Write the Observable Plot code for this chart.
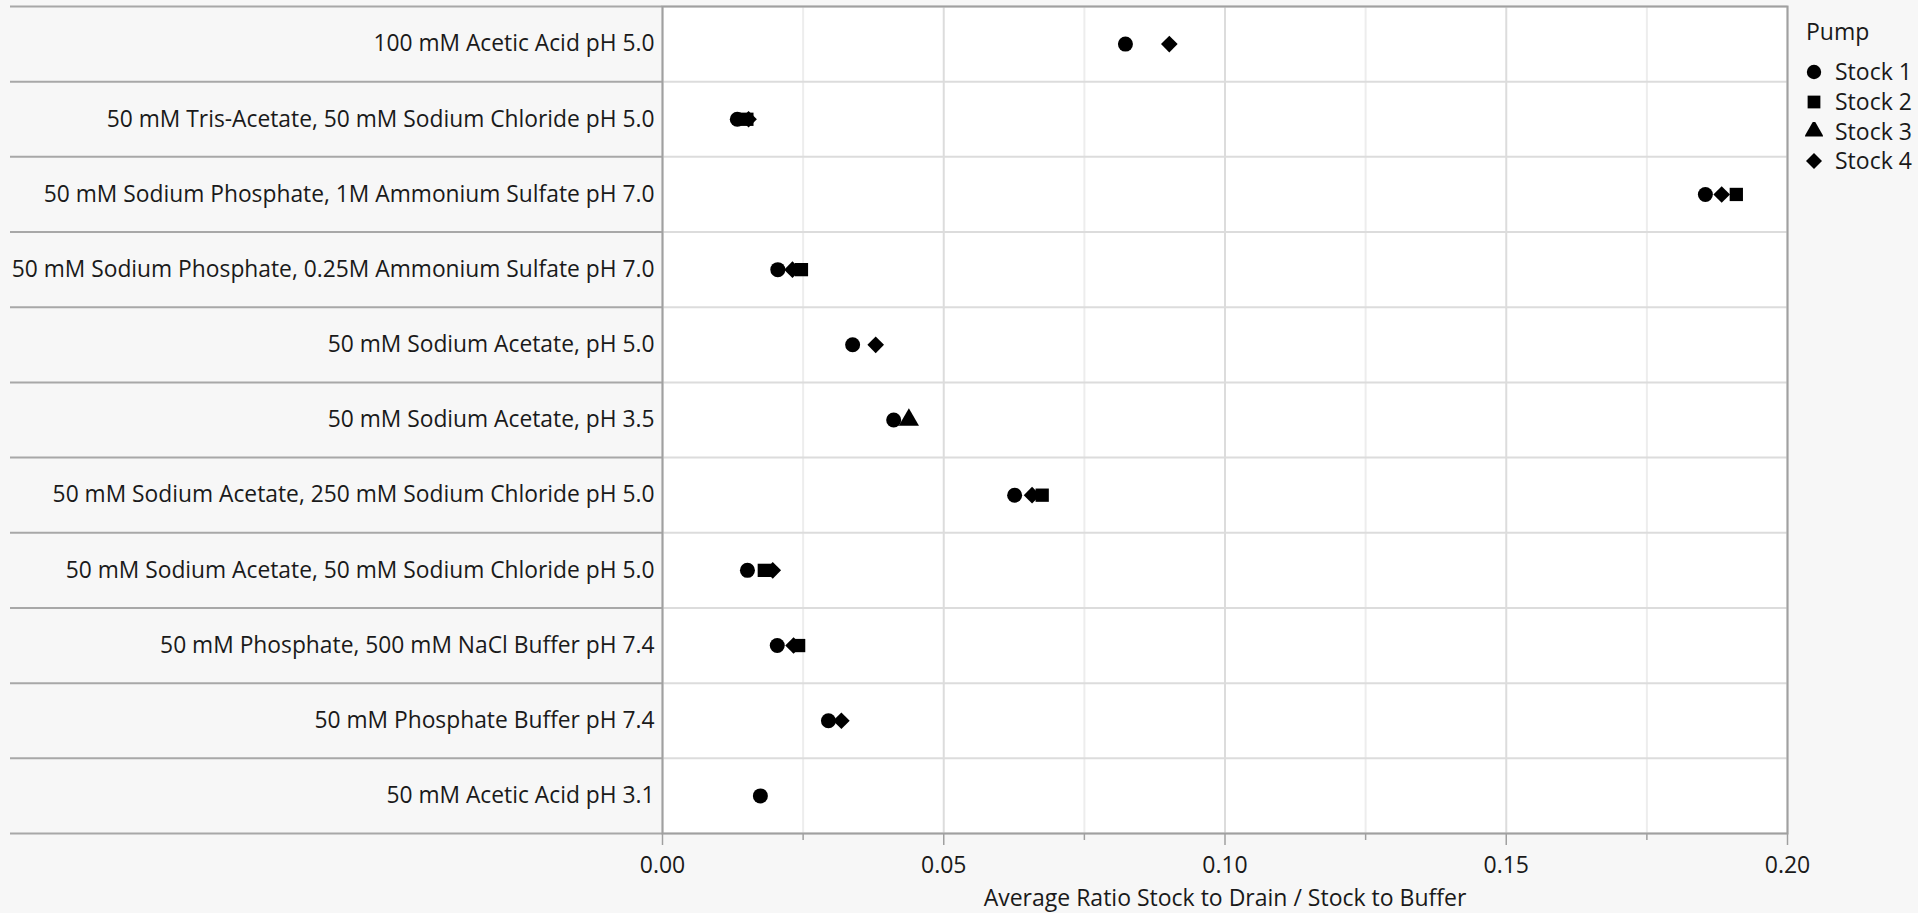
<!DOCTYPE html>
<html><head><meta charset="utf-8">
<script src="https://cdn.jsdelivr.net/npm/d3@7"></script>
<script src="https://cdn.jsdelivr.net/npm/@observablehq/plot@0.6"></script>
<style>
html,body{margin:0;padding:0;background:#f7f7f7;}
#wrap{position:relative;width:1918px;height:913px;font-family:"Open Sans",sans-serif;color:#1a1a1a;overflow:hidden;}
#wrap svg.plot{display:block;}
#legend{position:absolute;left:1806px;top:15px;font-size:23px;line-height:1;}
#legend .title{height:42px;line-height:32px;}
#legend .item{display:flex;align-items:center;height:29.7px;}
#legend .item svg{width:18px;height:18px;margin-right:12px;margin-left:-1px;flex:none;}
</style></head><body><div id="wrap"></div>
<script>
// Categories, top to bottom
const categories = [
  "100 mM Acetic Acid pH 5.0",
  "50 mM Tris-Acetate, 50 mM Sodium Chloride pH 5.0",
  "50 mM Sodium Phosphate, 1M Ammonium Sulfate pH 7.0",
  "50 mM Sodium Phosphate, 0.25M Ammonium Sulfate pH 7.0",
  "50 mM Sodium Acetate, pH 5.0",
  "50 mM Sodium Acetate, pH 3.5",
  "50 mM Sodium Acetate, 250 mM Sodium Chloride pH 5.0",
  "50 mM Sodium Acetate, 50 mM Sodium Chloride pH 5.0",
  "50 mM Phosphate, 500 mM NaCl Buffer pH 7.4",
  "50 mM Phosphate Buffer pH 7.4",
  "50 mM Acetic Acid pH 3.1"
];
const pumps = ["Stock 1", "Stock 2", "Stock 3", "Stock 4"];
// Series values per category (null = no value)
const stock1 = [0.0823, 0.0133, 0.1854, 0.0205, 0.0338, 0.0411, 0.0626, 0.0151, 0.0204, 0.0295, 0.0174];
const stock2 = [null, 0.0150, 0.1909, 0.0247, null, null, 0.0675, 0.0181, 0.0242, null, null];
const stock3 = [null, null, null, null, null, 0.0438, null, null, null, null, null];
const stock4 = [0.0901, 0.0153, 0.1883, 0.0231, 0.0379, null, 0.0657, 0.0196, 0.0233, 0.0318, null];
const xTicks = [0, 0.05, 0.10, 0.15, 0.20];
const xTickLabels = ["0.00", "0.05", "0.10", "0.15", "0.20"];
const xMinorTicks = [0.025, 0.075, 0.125, 0.175];
const xLabel = "Average Ratio Stock to Drain / Stock to Buffer";
const legendTitle = "Pump";
const symbols = ["circle", "square", "triangle", "diamond2"];

const series = [stock1, stock2, stock3, stock4];
const rows = [];
series.forEach((vals, s) => vals.forEach((v, i) => {
  if (v != null) rows.push({cat: i, value: v, pump: pumps[s]});
}));
const boundaries = d3.range(categories.length + 1);
const centers = d3.range(categories.length).map(i => i + 0.5);

const W = 1918, H = 913, ML = 662, MR = 131, MT = 6, MB = 80;
const innerW = W - ML - MR;

const chart = Plot.plot({
  width: W, height: H,
  marginLeft: ML, marginRight: MR, marginTop: MT, marginBottom: MB,
  style: {fontFamily: '"Open Sans", sans-serif', fontSize: "23px", color: "#1a1a1a", background: "transparent", overflow: "visible"},
  x: {domain: [0, 0.2]},
  y: {domain: [0, categories.length], reverse: true},
  symbol: {domain: pumps, range: symbols},
  marks: [
    Plot.frame({fill: "white", stroke: null}),
    Plot.ruleX(xMinorTicks, {stroke: "#ededed", strokeWidth: 2}),
    Plot.ruleX(xTicks, {stroke: "#dcdcdc", strokeWidth: 2}),
    Plot.ruleY(boundaries, {stroke: "#dcdcdc", strokeWidth: 2}),
    Plot.ruleY(boundaries, {stroke: "#a8a8a8", strokeWidth: 2, insetLeft: -(ML - 10), insetRight: innerW}),
    Plot.frame({stroke: "#a0a0a0", strokeWidth: 2}),
    Plot.axisX(xMinorTicks, {tickSize: 7, tickFormat: () => "", stroke: "#a0a0a0", strokeWidth: 1.5, label: null}),
    Plot.axisX(xTicks, {tickSize: 12, tickPadding: 11, tickFormat: d => xTickLabels[xTicks.indexOf(d)], stroke: "#a0a0a0", strokeWidth: 1.5, fill: "#1a1a1a", fontSize: 23,
      label: xLabel, labelAnchor: "center", labelArrow: "none", labelOffset: 72}),
    Plot.axisY(centers, {tickSize: 0, tickPadding: 8, tickFormat: d => categories[Math.floor(d)], fill: "#1a1a1a", fontSize: 22.8, label: null}),
    Plot.dot(rows, {x: "value", y: d => d.cat + 0.5, symbol: "pump", fill: "black", stroke: null, r: 7.5})
  ]
});
chart.classList.add("plot");
const wrap = document.getElementById("wrap");
wrap.appendChild(chart);

// Legend
const legend = document.createElement("div");
legend.id = "legend";
const t = document.createElement("div");
t.className = "title";
t.textContent = legendTitle;
legend.appendChild(t);
const symMap = {circle: d3.symbolCircle, square: d3.symbolSquare, triangle: d3.symbolTriangle, diamond2: d3.symbolDiamond2};
pumps.forEach((p, i) => {
  const item = document.createElement("div");
  item.className = "item";
  const svg = d3.create("svg").attr("viewBox", "-9 -9 18 18");
  svg.append("path").attr("d", d3.symbol(symMap[symbols[i]], Math.PI * 7.2 * 7.2)()).attr("fill", "black");
  item.appendChild(svg.node());
  const s = document.createElement("span");
  s.textContent = p;
  item.appendChild(s);
  legend.appendChild(item);
});
wrap.appendChild(legend);
</script>
</body></html>
